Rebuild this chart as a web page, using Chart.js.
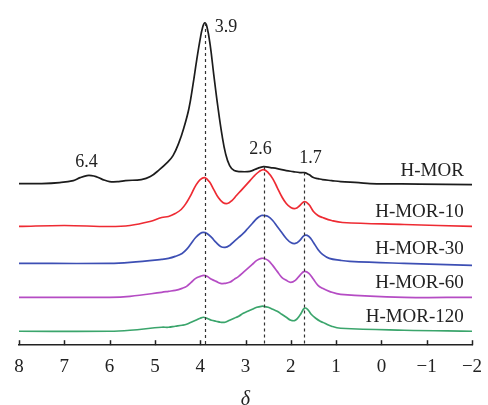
<!DOCTYPE html>
<html>
<head>
<meta charset="utf-8">
<title>1H MAS NMR</title>
<script src="https://cdn.jsdelivr.net/npm/chart.js@4.4.1/dist/chart.umd.min.js"></script>
<style>
    html, body { margin: 0; padding: 0; background: #fff; }
    #wrap { width: 488px; height: 405px; }
</style>
</head>
<body>
<div id="wrap"><canvas id="nmrChart"></canvas></div>
<script>
// spectra as [shift (ppm), intensity above own baseline]
const hmor = [[8.0,1],[7.5,1],[7.1,2],[6.8,4],[6.65,7],[6.5,9],[6.4,9],[6.3,8],[6.15,5],[6.0,3],[5.8,3],[5.65,4],[5.3,5],[5.1,8],[4.9,15],[4.73,22],[4.6,29],[4.47,42],[4.36,57],[4.25,76],[4.16,100],[4.08,124],[4.0,146],[3.95,157],[3.9,162],[3.85,158],[3.78,140],[3.7,110],[3.61,78],[3.52,50],[3.44,31],[3.35,19],[3.25,14],[3.1,13],[2.95,13],[2.85,14],[2.75,16],[2.6,18],[2.45,17],[2.3,16],[2.1,14],[1.95,13],[1.8,12],[1.7,12],[1.6,10],[1.5,7],[1.4,6],[1.3,5],[1.1,4],[0.9,3],[0.5,2],[0.25,1],[-0.85,0.5],[-2.0,0]];
const hmor10 = [[8.0,0],[7.0,1],[6.0,0],[5.55,1],[5.11,5],[4.85,9],[4.7,10],[4.55,13],[4.42,17],[4.3,24],[4.2,32],[4.1,41],[4.0,47],[3.9,49],[3.8,45],[3.7,37],[3.6,29],[3.5,24],[3.4,23],[3.3,26],[3.2,31],[3.1,36],[3.0,41],[2.9,46],[2.8,51],[2.7,55],[2.6,57],[2.5,54],[2.4,48],[2.3,39],[2.2,30],[2.1,23],[2.0,19],[1.9,18],[1.8,21],[1.7,25],[1.6,22],[1.5,15],[1.4,11],[1.3,9],[1.1,6],[0.86,4],[-0.5,2],[-2.0,0]];
const hmor30 = [[8.0,0],[6.0,0],[5.55,1],[4.85,4],[4.7,5],[4.55,7],[4.4,10],[4.3,14],[4.2,20],[4.1,26],[4.0,30],[3.93,31],[3.85,30],[3.75,26],[3.65,21],[3.55,17],[3.45,16],[3.35,18],[3.25,22],[3.15,26],[3.05,30],[2.95,35],[2.85,40],[2.75,45],[2.65,48],[2.6,48],[2.5,47],[2.4,43],[2.3,37],[2.2,31],[2.1,25],[2.0,21],[1.9,20],[1.8,23],[1.7,28],[1.6,27],[1.5,21],[1.4,14],[1.3,9],[1.15,5],[0.9,3],[0.7,2],[-0.5,0],[-2.0,-2]];
const hmor60 = [[8.0,0],[6.0,0],[5.55,1],[4.85,5],[4.7,6],[4.55,7],[4.4,9],[4.3,11],[4.2,15],[4.1,19],[4.0,21],[3.92,22],[3.85,21],[3.75,18],[3.65,16],[3.55,14],[3.45,14],[3.35,15],[3.25,18],[3.15,21],[3.05,25],[2.95,29],[2.85,33],[2.75,37],[2.65,39],[2.6,39],[2.5,37],[2.4,32],[2.3,26],[2.2,20],[2.1,17],[2.0,15],[1.9,17],[1.8,22],[1.7,26],[1.6,24],[1.5,18],[1.4,12],[1.3,9],[1.15,6],[0.9,3],[-0.5,0],[-2.0,0]];
const hmor120 = [[8.0,0],[6.0,0],[5.55,1],[4.85,4],[4.7,4],[4.55,5],[4.4,6],[4.3,7],[4.2,9],[4.1,11],[4.0,13],[3.93,14],[3.85,13],[3.75,11],[3.65,10],[3.55,9],[3.45,9],[3.35,11],[3.25,13],[3.15,15],[3.05,18],[2.95,20],[2.85,22],[2.75,24],[2.65,25],[2.6,25],[2.5,24],[2.4,22],[2.3,20],[2.2,17],[2.1,14],[2.0,11],[1.9,11],[1.8,16],[1.7,23],[1.63,22],[1.55,17],[1.45,13],[1.35,10],[1.25,8],[1.1,5],[0.9,3],[-0.5,1],[-2.0,0]];

const sampleNames = ['H-MOR', 'H-MOR-10', 'H-MOR-30', 'H-MOR-60', 'H-MOR-120'];
const spectra = [hmor, hmor10, hmor30, hmor60, hmor120];
const offsets = [161, 119, 82, 48, 14];

const peakShifts = [6.4, 3.9, 2.6, 1.7];
const peakLabels = ['6.4', '3.9', '2.6', '1.7'];
const markedPeaks = [3.9, 2.6, 1.7];

const xTicks = [8, 7, 6, 5, 4, 3, 2, 1, 0, -1, -2];

const lineColors = ['#1c1c1c', '#ee2b33', '#3d4fb4', '#b54cc4', '#3ba56c'];
const SERIF = '"Liberation Serif", "Times New Roman", serif';

const stacked = function(points, off) {
    return points.map(function(p) { return {x: p[0], y: p[1] + off}; });
}

// value of the top spectrum at a given shift
const topAt = function(shift) {
    var pt = hmor.find(function(p) { return p[0] === shift; });
    return pt[1] + offsets[0];
}

const annotations = {
    id: 'annotations',
    afterDatasetsDraw: function(chart) {
        var ctx = chart.ctx;
        var xs = chart.scales.x;
        var ys = chart.scales.y;
        var bottom = chart.chartArea.bottom;
        ctx.save();

        // dashed guides under the marked peaks
        ctx.strokeStyle = '#333';
        ctx.lineWidth = 1.2;
        ctx.setLineDash([3, 3]);
        markedPeaks.forEach(function(s) {
            var px = Math.round(xs.getPixelForValue(s)) + 0.5;
            ctx.beginPath();
            ctx.moveTo(px, ys.getPixelForValue(topAt(s)));
            ctx.lineTo(px, bottom);
            ctx.stroke();
        });
        ctx.setLineDash([]);

        // inward tick marks
        ctx.strokeStyle = '#222';
        ctx.lineWidth = 1.5;
        xTicks.forEach(function(t) {
            var px = Math.round(xs.getPixelForValue(t)) + 0.5;
            ctx.beginPath();
            ctx.moveTo(px, bottom);
            ctx.lineTo(px, bottom - 5);
            ctx.stroke();
        });

        ctx.fillStyle = '#222';
        ctx.font = '18px ' + SERIF;
        ctx.textBaseline = 'middle';

        // peak positions
        var shiftX = [-5, 10, -3, 6];
        var liftY = [13, -4, 17, 14];
        var align = ['center', 'left', 'center', 'center'];
        peakShifts.forEach(function(s, i) {
            var v = topAt(s);
            ctx.textAlign = align[i];
            ctx.fillText(peakLabels[i], xs.getPixelForValue(s) + shiftX[i], ys.getPixelForValue(v + liftY[i]));
        });

        // sample names
        ctx.font = '19px ' + SERIF;
        ctx.textAlign = 'right';
        sampleNames.forEach(function(n, i) {
            ctx.fillText(n, xs.getPixelForValue(-1.82), ys.getPixelForValue(offsets[i] + 14));
        });
        ctx.restore();
    }
}

const renderSpectra = function() {
    var canvas = document.getElementById('nmrChart');
    var datasets = spectra.map(function(s, i) {
        return {
            label: sampleNames[i],
            data: stacked(s, offsets[i]),
            borderColor: lineColors[i],
            borderWidth: 1.7,
            pointRadius: 0,
            fill: false,
            tension: 0.4
        };
    });

    return new Chart(canvas, {
        type: 'line',
        data: { datasets: datasets },
        plugins: [annotations],
        options: {
            responsive: true,
            maintainAspectRatio: false,
            animation: false,
            layout: { padding: { left: 19, right: 16, top: 0, bottom: 1 } },
            plugins: { legend: { display: false }, tooltip: { enabled: false } },
            scales: {
                x: {
                    type: 'linear',
                    reverse: true,
                    min: -2,
                    max: 8,
                    afterBuildTicks: function(axis) {
                        axis.ticks = xTicks.map(function(v) { return {value: v}; });
                    },
                    // edge labels may overhang, the outer padding already leaves room
                    afterFit: function(axis) {
                        axis.paddingLeft = 0;
                        axis.paddingRight = 0;
                    },
                    grid: { display: false, drawTicks: false },
                    border: { display: true, color: '#222', width: 1.5 },
                    ticks: {
                        padding: 10,
                        color: '#222',
                        font: { family: SERIF, size: 19 },
                        maxRotation: 0,
                        callback: function(v) { return v < 0 ? '\u2212' + Math.abs(v) : '' + v; }
                    },
                    title: {
                        display: true,
                        text: '\u03b4',
                        color: '#222',
                        padding: { top: 0, bottom: -8 },
                        font: { family: SERIF, size: 20, style: 'italic' }
                    }
                },
                y: {
                    display: false,
                    min: 0,
                    max: 346
                }
            }
        }
    });
}

renderSpectra();
</script>
</body>
</html>
